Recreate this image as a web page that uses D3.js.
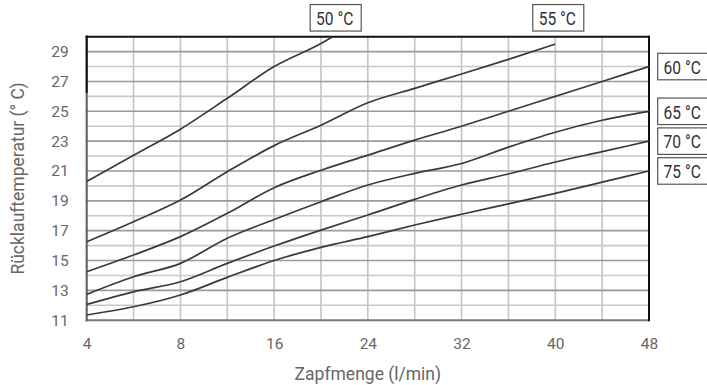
<!DOCTYPE html>
<html>
<head>
<meta charset="utf-8">
<script src="https://cdn.jsdelivr.net/npm/d3@7/dist/d3.min.js"></script>
<style>
  html, body { margin: 0; padding: 0; background: #fff; }
  svg { display: block; }
  text { font-family: Roboto, "Noto Sans", sans-serif; }
</style>
</head>
<body>
<svg id="chart" width="707" height="385"></svg>
<script>
// ---- data ----
const flowTicks = [4, 8, 16, 24, 32, 40, 48];
const gridFlows = [4, 6, 8, 12, 16, 20, 24, 28, 32, 36, 40, 44, 48];
const yTickValues = [11, 13, 15, 17, 19, 21, 23, 25, 27, 29];
const yGridValues = [11, 12, 13, 14, 15, 16, 17, 18, 19, 20, 21, 22, 23, 24, 25, 26, 27, 28, 29, 30];

const flows = [4, 6, 8, 12, 16, 20, 24, 28, 32, 36, 40, 44, 48];
const flows50 = [4, 6, 8, 12, 16, 20, 21];
const t50 = [20.3, 22.05, 23.8, 25.87, 28.0, 29.55, 30.0];
const flows55 = [4, 6, 8, 12, 16, 20, 24, 28, 32, 36, 40];
const t55 = [16.26, 17.6, 19.05, 20.95, 22.7, 24.07, 25.57, 26.54, 27.5, 28.48, 29.5];
const t60 = [14.25, 15.37, 16.6, 18.16, 19.88, 21.05, 22.06, 23.07, 24.0, 25.0, 26.0, 27.0, 28.0];
const t65 = [12.73, 13.91, 14.81, 16.49, 17.75, 18.94, 20.06, 20.84, 21.5, 22.6, 23.6, 24.4, 25.0];
const t70 = [12.06, 12.9, 13.58, 14.81, 15.97, 17.04, 18.05, 19.1, 20.06, 20.8, 21.6, 22.3, 23.0];
const t75 = [11.35, 11.9, 12.69, 13.87, 15.0, 15.88, 16.6, 17.38, 18.1, 18.8, 19.5, 20.25, 21.0];

const seriesNames = ["50 °C", "55 °C", "60 °C", "65 °C", "70 °C", "75 °C"];
const labelPlacement = ["top", "top", "right", "right", "right", "right"];

const xTitle = "Zapfmenge (l/min)";
const yTitle = "Rücklauftemperatur (° C)";

// ---- layout ----
const L = 86.7, R = 649, T = 36.7, B = 320.2;
const svg = d3.select("#chart");

const x = d3.scaleLinear()
  .domain(flowTicks)
  .range(flowTicks.map((d, i) => L + i * (R - L) / (flowTicks.length - 1)));
const y = d3.scaleLinear().domain([11, 30]).range([B, T]);

const series = [
  { name: seriesNames[0], xs: flows50, ys: t50, place: labelPlacement[0] },
  { name: seriesNames[1], xs: flows55, ys: t55, place: labelPlacement[1] },
  { name: seriesNames[2], xs: flows, ys: t60, place: labelPlacement[2] },
  { name: seriesNames[3], xs: flows, ys: t65, place: labelPlacement[3] },
  { name: seriesNames[4], xs: flows, ys: t70, place: labelPlacement[4] },
  { name: seriesNames[5], xs: flows, ys: t75, place: labelPlacement[5] }
].map(s => ({ ...s, pts: s.xs.map((f, i) => [f, s.ys[i]]) }));

// ---- grid ----
const grid = svg.append("g");
grid.selectAll("line.v").data(gridFlows.slice(1, -1)).join("line")
  .attr("x1", d => x(d)).attr("x2", d => x(d))
  .attr("y1", T).attr("y2", B)
  .attr("stroke", "#c4c4c4").attr("stroke-width", 1.6);
grid.selectAll("line.h").data(yGridValues.filter(v => v > 11 && v < 30)).join("line")
  .attr("x1", L).attr("x2", R)
  .attr("y1", d => y(d)).attr("y2", d => y(d))
  .attr("stroke", d => (d % 2 === 1 ? "#9a9a9a" : "#c8c8c8"))
  .attr("stroke-width", 1.6);

// ---- frame ----
const frame = svg.append("g").attr("stroke-linecap", "square");
frame.append("line").attr("x1", L).attr("x2", R).attr("y1", B).attr("y2", B)
  .attr("stroke", "#7a7a7a").attr("stroke-width", 2);
frame.append("line").attr("x1", L).attr("x2", L).attr("y1", T).attr("y2", B)
  .attr("stroke", "#5a5a5a").attr("stroke-width", 2);
frame.append("line").attr("x1", L).attr("x2", L).attr("y1", T).attr("y2", y(26.3))
  .attr("stroke", "#111").attr("stroke-width", 2);
frame.append("line").attr("x1", L).attr("x2", R).attr("y1", T).attr("y2", T)
  .attr("stroke", "#111").attr("stroke-width", 2);
frame.append("line").attr("x1", R).attr("x2", R).attr("y1", T).attr("y2", B)
  .attr("stroke", "#111").attr("stroke-width", 2);

// ---- curves ----
svg.append("clipPath").attr("id", "plotclip").append("rect")
  .attr("x", L).attr("y", T).attr("width", R - L).attr("height", B - T);
const line = d3.line().x(d => x(d[0])).y(d => y(d[1])).curve(d3.curveMonotoneX);
svg.append("g").attr("clip-path", "url(#plotclip)")
  .selectAll("path").data(series).join("path")
  .attr("d", d => line(d.pts))
  .attr("fill", "none").attr("stroke", "#3a3a3a").attr("stroke-width", 1.7);

// ---- axes ----
const xAxis = svg.append("g").attr("transform", `translate(0,${B})`)
  .call(d3.axisBottom(x).tickValues(flowTicks).tickSize(0).tickPadding(18).tickFormat(d3.format("d")));
xAxis.select(".domain").remove();
xAxis.selectAll("text").attr("font-size", 15.5).attr("fill", "#666")
  .attr("font-family", "Roboto, sans-serif");

const yAxis = svg.append("g").attr("transform", `translate(${L},0)`)
  .call(d3.axisLeft(y).tickValues(yTickValues).tickSize(0).tickPadding(18).tickFormat(d3.format("d")));
yAxis.select(".domain").remove();
yAxis.selectAll("text").attr("font-size", 15.5).attr("fill", "#666")
  .attr("font-family", "Roboto, sans-serif");

// ---- titles ----
svg.append("text").attr("x", (L + R) / 2).attr("y", 380)
  .attr("text-anchor", "middle").attr("font-size", 17.5).attr("fill", "#666")
  .text(xTitle);
svg.append("text").attr("transform", `translate(24,${(T + B) / 2}) rotate(-90)`)
  .attr("text-anchor", "middle").attr("font-size", 17.5).attr("fill", "#666")
  .text(yTitle);

// ---- series labels ----
const bw = 51, bh = 26.5;
const labels = svg.append("g");
series.forEach(s => {
  const last = s.pts[s.pts.length - 1];
  let cx, cy;
  if (s.place === "top") { cx = x(last[0]) + 3; cy = 17.8; }
  else { cx = R + 8.7 + bw / 2; cy = y(last[1]); }
  const g = labels.append("g");
  g.append("rect").attr("x", cx - bw / 2).attr("y", cy - bh / 2)
    .attr("width", bw).attr("height", bh)
    .attr("fill", "#fff").attr("stroke", "#555").attr("stroke-width", 1.2);
  g.append("text")
    .attr("transform", `translate(${cx - 1},${cy + 7.3}) scale(0.82,1)`)
    .attr("text-anchor", "middle").attr("font-size", 19).attr("fill", "#333")
    .text(s.name);
});
</script>
</body>
</html>
